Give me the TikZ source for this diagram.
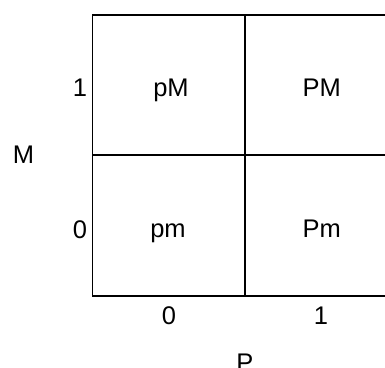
\documentclass[tikz,border=0pt]{standalone}
\usepackage{fontspec}
\setmainfont{Liberation Sans}
\begin{document}
\begin{tikzpicture}[x=1pt,y=1pt,
  lbl/.style={anchor=base,inner sep=0pt,font=\fontsize{25.5}{30}\selectfont},
  gridline/.style={line width=1.8pt,line cap=rect}]
\useasboundingbox (0,0) rectangle (385,367);
\clip (0,0) rectangle (385,367);
% grid corners
\coordinate (tl) at (92.5,352);
\coordinate (tm) at (245,352);
\coordinate (tr) at (390,352);
\coordinate (ml) at (92.5,212);
\coordinate (mr) at (390,212);
\coordinate (bl) at (92.5,71);
\coordinate (bm) at (245,71);
\coordinate (br) at (390,71);
\draw[gridline] (tr) -- (tl) -- (bl) -- (br);
\draw[gridline] (tm) -- (bm);
\draw[gridline] (ml) -- (mr);
% cell labels
\node[lbl] (pM) at (171,270.3) {pM};
\node[lbl] (PM) at (321.7,270) {PM};
\node[lbl] (pm) at (168,130) {pm};
\node[lbl] (Pm) at (321.7,130) {Pm};
% axis values
\node[lbl] (m1) at (80,270) {1};
\node[lbl] (m0) at (80,129) {0};
\node[lbl] (p0) at (169,43) {0};
\node[lbl] (p1) at (321,43) {1};
% axis names
\node[lbl] (M) at (23.5,203) {M};
\node[lbl] (P) at (245,-4) {P};
\end{tikzpicture}
\end{document}
